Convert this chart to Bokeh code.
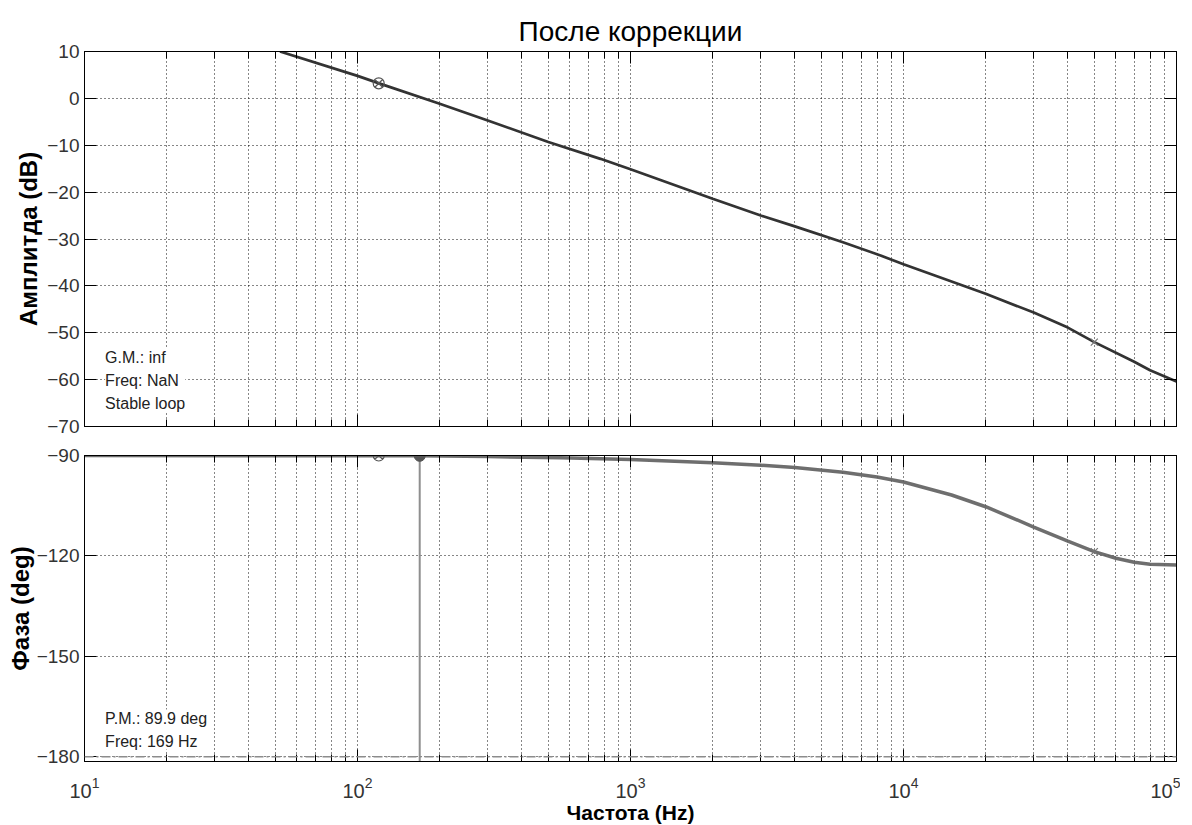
from bokeh.plotting import figure
from bokeh.models import (LogAxis, LinearAxis, Label, Span, CustomJSTickFormatter,
                          FixedTicker, Range1d)
from bokeh.layouts import column
from bokeh.embed import file_html
from bokeh.resources import INLINE

# ---------------- data ----------------
freq_mag = [52, 100, 120, 200, 300, 500, 776, 1000, 2000, 3000, 4000, 6000,
            8240, 10000, 20000, 30000, 40000, 50000, 70000, 80000, 100000]
mag_db = [10.0, 4.8, 3.2, -1.15, -4.7, -9.3, -12.9, -15.1, -21.4, -25.0,
          -27.3, -30.7, -33.5, -35.4, -41.7, -45.7, -48.9, -52.0, -56.2, -58.0, -60.4]

freq_phase = [10, 100, 169, 300, 555, 1000, 2000, 3000, 4000, 6000, 8000, 10000,
              15000, 20000, 25000, 30000, 40000, 50000, 60000, 70000, 80000, 100000]
phase_deg = [-90.0, -90.1, -90.1, -90.3, -90.7, -91.2, -92.2, -92.9, -93.6, -95.0,
             -96.4, -97.9, -101.8, -105.3, -108.6, -111.4, -115.6, -118.7, -120.7,
             -121.9, -122.5, -122.7]

mag_ticks = [10, 0, -10, -20, -30, -40, -50, -60, -70]
phase_ticks = [-90, -120, -150, -180]
decades = [10, 100, 1000, 10000, 100000]

marker_freq = [119.6]          # circle-x markers
marker_mag = [3.2]
marker_phase = [-90.0]
pm_freq = [169]                # phase margin frequency
pm_phase = [-90.1]
pm_floor = [-181.4]
cross_freq = [50000]           # x markers
cross_mag = [-52.0]
cross_phase = [-118.7]

gm_text = "G.M.: inf\nFreq: NaN\nStable loop"
pm_text = "P.M.: 89.9 deg\nFreq: 169 Hz"

title_text = "После коррекции"
ylabel_mag = "Амплитда (dB)"
ylabel_phase = "Фаза (deg)"
xlabel = "Частота (Hz)"

FONT = "Liberation Sans"
minor = [m * d for d in decades[:-1] for m in range(2, 10)]


def empty_formatter():
    return CustomJSTickFormatter(code="return ''")


def build(height_frame, y_range, yticks, top_border, bottom_border, x_range=None):
    kw = dict(x_axis_type="log", y_range=y_range, output_backend="svg",
              toolbar_location=None, frame_width=1092, frame_height=height_frame,
              min_border_left=84, min_border_right=4, min_border_top=top_border,
              min_border_bottom=bottom_border, x_axis_location=None, y_axis_location=None)
    kw["x_range"] = x_range if x_range is not None else Range1d(10, 100000)
    p = figure(**kw)
    p.outline_line_color = "black"
    p.outline_line_width = 1
    p.background_fill_color = "white"
    p.border_fill_color = "white"
    p.xgrid.ticker = FixedTicker(ticks=decades, minor_ticks=minor)
    p.ygrid.ticker = FixedTicker(ticks=yticks)
    for g in (p.xgrid, p.ygrid):
        g.grid_line_color = "black"
        g.grid_line_dash = "1 3"
        g.grid_line_alpha = 0.95
    p.xgrid.minor_grid_line_color = "black"
    p.xgrid.minor_grid_line_dash = "1 3"
    p.xgrid.minor_grid_line_alpha = 0.95

    left = LinearAxis(ticker=FixedTicker(ticks=yticks), major_tick_in=12, major_tick_out=0,
                      minor_tick_line_color=None, major_label_text_font=FONT,
                      major_label_text_font_size="19px", major_label_text_color="#333333",
                      major_label_standoff=5, axis_label_text_font=FONT,
                      axis_label_text_font_size="24px", axis_label_text_font_style="bold",
                      axis_label_text_color="black", axis_label_standoff=0,
                      axis_line_color="black")
    bottom = LogAxis(ticker=FixedTicker(ticks=decades, minor_ticks=minor), major_tick_in=12,
                     major_tick_out=0, minor_tick_in=7, minor_tick_out=0,
                     axis_line_color="black", major_label_text_font=FONT,
                     major_label_text_font_size="20px", major_label_text_color="#333333")
    top = LogAxis(ticker=FixedTicker(ticks=decades, minor_ticks=minor),
                  formatter=empty_formatter(), major_tick_in=12, major_tick_out=0,
                  minor_tick_in=7, minor_tick_out=0, major_label_standoff=0,
                  major_label_text_font_size="1px", axis_line_color="black")
    right = LinearAxis(ticker=FixedTicker(ticks=yticks), formatter=empty_formatter(),
                       major_tick_in=12, major_tick_out=0, minor_tick_line_color=None,
                       major_label_standoff=0, major_label_text_font_size="1px",
                       axis_line_color="black")
    p.add_layout(left, "left")
    p.add_layout(bottom, "below")
    p.add_layout(top, "above")
    p.add_layout(right, "right")
    return p, left, bottom


# ---------------- upper: magnitude ----------------
p1, left1, bottom1 = build(375, Range1d(-70, 10), mag_ticks, 51, 14)
p1.title.text = title_text
p1.title.align = "center"
p1.title.text_font = FONT
p1.title.text_font_size = "28px"
p1.title.text_font_style = "normal"
p1.title.text_color = "black"
bottom1.formatter = empty_formatter()
bottom1.major_label_text_font_size = "1px"
bottom1.major_label_standoff = 0
left1.axis_label = ylabel_mag
left1.axis_label_standoff = 2

p1.line(freq_mag, mag_db, line_color="#333333", line_width=2.7)
p1.scatter(marker_freq, marker_mag, marker="circle_x", size=11, fill_color=None,
           line_color="#555555", line_width=1.2)
p1.scatter(cross_freq, cross_mag, marker="x", size=10, line_color="#777777", line_width=1.2)

p1.add_layout(Label(x=11.9, y=-53.4, text=gm_text, text_font=FONT, text_font_size="16px",
                    text_color="#222222", text_baseline="top", text_line_height=1.35,
                    background_fill_color="white"))

# ---------------- lower: phase ----------------
p2, left2, bottom2 = build(306, Range1d(-181.4, -90), phase_ticks, 15, 56, x_range=p1.x_range)
bottom2.axis_label = xlabel
bottom2.axis_label_text_font = FONT
bottom2.axis_label_text_font_size = "21px"
bottom2.axis_label_text_font_style = "bold"
bottom2.axis_label_text_color = "black"
bottom2.major_label_standoff = 15
bottom2.axis_label_standoff = 0
left2.axis_label = ylabel_phase

p2.add_layout(Span(location=-180, dimension="width", line_color="#8c8c8c",
                   line_dash="9 3 2 3", line_width=1.5))
p2.segment(x0=pm_freq, y0=pm_phase, x1=pm_freq, y1=pm_floor, line_color="#8f8f8f",
           line_width=2)
p2.line(freq_phase, phase_deg, line_color="#5e5e5e", line_width=3.5, line_alpha=0.9)
p2.scatter(marker_freq, marker_phase, marker="circle_x", size=11, fill_color=None,
           line_color="#555555", line_width=1.2)
p2.scatter(pm_freq, pm_phase, marker="circle", size=11, fill_color="#555555",
           line_color="#555555")
p2.scatter(cross_freq, cross_phase, marker="x", size=10, line_color="#777777", line_width=1.2)

p2.add_layout(Label(x=11.9, y=-165.9, text=pm_text, text_font=FONT, text_font_size="16px",
                    text_color="#222222", text_baseline="top", text_line_height=1.35,
                    background_fill_color="white"))

layout = column(p1, p2, spacing=0)
open("out.html", "w").write(file_html(layout, INLINE))
